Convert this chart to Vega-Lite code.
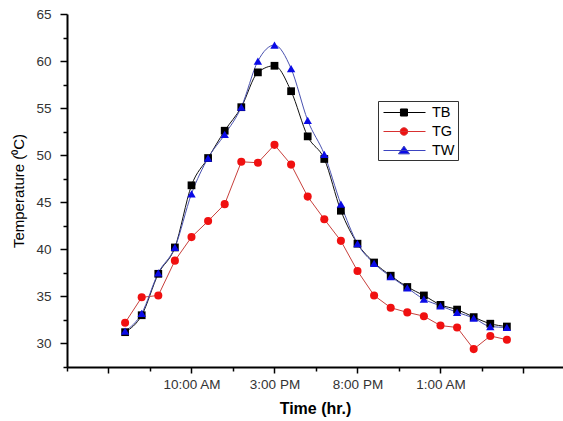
{
  "$schema": "https://vega.github.io/schema/vega-lite/v6.json",
  "width": 496,
  "height": 353,
  "autosize": "none",
  "padding": {"left": 67, "top": 14, "right": 0, "bottom": 54},
  "background": "white",
  "config": {"view": {"stroke": null}, "font": "Liberation Sans"},
  "datasets": {
    "temps": [
      {"time": 6, "series": "TB", "temp": 31.2}, {"time": 7, "series": "TB", "temp": 33.0}, {"time": 8, "series": "TB", "temp": 37.4}, {"time": 9, "series": "TB", "temp": 40.2},
      {"time": 10, "series": "TB", "temp": 46.8}, {"time": 11, "series": "TB", "temp": 49.7}, {"time": 12, "series": "TB", "temp": 52.6}, {"time": 13, "series": "TB", "temp": 55.1},
      {"time": 14, "series": "TB", "temp": 58.8}, {"time": 15, "series": "TB", "temp": 59.5}, {"time": 16, "series": "TB", "temp": 56.8}, {"time": 17, "series": "TB", "temp": 52.0},
      {"time": 18, "series": "TB", "temp": 49.6}, {"time": 19, "series": "TB", "temp": 44.1}, {"time": 20, "series": "TB", "temp": 40.6}, {"time": 21, "series": "TB", "temp": 38.6},
      {"time": 22, "series": "TB", "temp": 37.2}, {"time": 23, "series": "TB", "temp": 36.0}, {"time": 24, "series": "TB", "temp": 35.1}, {"time": 25, "series": "TB", "temp": 34.1},
      {"time": 26, "series": "TB", "temp": 33.6}, {"time": 27, "series": "TB", "temp": 32.8}, {"time": 28, "series": "TB", "temp": 32.1}, {"time": 29, "series": "TB", "temp": 31.8},
      {"time": 6, "series": "TG", "temp": 32.2}, {"time": 7, "series": "TG", "temp": 34.9}, {"time": 8, "series": "TG", "temp": 35.1}, {"time": 9, "series": "TG", "temp": 38.8},
      {"time": 10, "series": "TG", "temp": 41.3}, {"time": 11, "series": "TG", "temp": 43.0}, {"time": 12, "series": "TG", "temp": 44.8}, {"time": 13, "series": "TG", "temp": 49.3},
      {"time": 14, "series": "TG", "temp": 49.2}, {"time": 15, "series": "TG", "temp": 51.1}, {"time": 16, "series": "TG", "temp": 49.0}, {"time": 17, "series": "TG", "temp": 45.6},
      {"time": 18, "series": "TG", "temp": 43.2}, {"time": 19, "series": "TG", "temp": 40.9}, {"time": 20, "series": "TG", "temp": 37.7}, {"time": 21, "series": "TG", "temp": 35.1},
      {"time": 22, "series": "TG", "temp": 33.8}, {"time": 23, "series": "TG", "temp": 33.3}, {"time": 24, "series": "TG", "temp": 32.9}, {"time": 25, "series": "TG", "temp": 31.9},
      {"time": 26, "series": "TG", "temp": 31.7}, {"time": 27, "series": "TG", "temp": 29.4}, {"time": 28, "series": "TG", "temp": 30.8}, {"time": 29, "series": "TG", "temp": 30.4},
      {"time": 6, "series": "TW", "temp": 31.3}, {"time": 7, "series": "TW", "temp": 33.2}, {"time": 8, "series": "TW", "temp": 37.5}, {"time": 9, "series": "TW", "temp": 40.2},
      {"time": 10, "series": "TW", "temp": 45.9}, {"time": 11, "series": "TW", "temp": 49.7}, {"time": 12, "series": "TW", "temp": 52.2}, {"time": 13, "series": "TW", "temp": 55.1},
      {"time": 14, "series": "TW", "temp": 60.0}, {"time": 15, "series": "TW", "temp": 61.7}, {"time": 16, "series": "TW", "temp": 59.2}, {"time": 17, "series": "TW", "temp": 53.7},
      {"time": 18, "series": "TW", "temp": 50.1}, {"time": 19, "series": "TW", "temp": 44.8}, {"time": 20, "series": "TW", "temp": 40.6}, {"time": 21, "series": "TW", "temp": 38.5},
      {"time": 22, "series": "TW", "temp": 37.1}, {"time": 23, "series": "TW", "temp": 35.9}, {"time": 24, "series": "TW", "temp": 34.7}, {"time": 25, "series": "TW", "temp": 34.0},
      {"time": 26, "series": "TW", "temp": 33.3}, {"time": 27, "series": "TW", "temp": 32.7}, {"time": 28, "series": "TW", "temp": 31.8}, {"time": 29, "series": "TW", "temp": 31.7}
    ]
  },
  "data": {"name": "temps"},
  "encoding": {
    "x": {
      "field": "time", "type": "quantitative",
      "scale": {"domain": [2.5, 32.38], "nice": false, "zero": false},
      "axis": {
        "values": [2.5, 5, 7.5, 10, 12.5, 15, 17.5, 20, 22.5, 25, 27.5, 30],
        "labelExpr": "datum.value === 10 ? '10:00 AM' : datum.value === 15 ? '3:00 PM' : datum.value === 20 ? '8:00 PM' : datum.value === 25 ? '1:00 AM' : ''",
        "tickSize": {"condition": {"test": "datum.value % 5 === 0", "value": 6}, "value": 4},
        "grid": false,
        "title": "Time (hr.)",
        "titleFontSize": 16, "titleFontWeight": "bold", "titleColor": "black", "titlePadding": 10,
        "labelFontSize": 13.5, "labelColor": "#333", "labelPadding": 4, "labelFlush": false,
        "domainColor": "black", "domainWidth": 2, "tickColor": "black", "tickWidth": 1.5
      }
    },
    "y": {
      "field": "temp", "type": "quantitative",
      "scale": {"domain": [27.5, 65], "nice": false, "zero": false},
      "axis": {
        "values": [27.5, 30, 32.5, 35, 37.5, 40, 42.5, 45, 47.5, 50, 52.5, 55, 57.5, 60, 62.5, 65],
        "labelExpr": "datum.value % 5 === 0 ? datum.label : ''",
        "tickSize": {"condition": {"test": "datum.value % 5 === 0", "value": 7}, "value": 4},
        "grid": false,
        "title": "Temperature (⁰C)",
        "titleFontSize": 15, "titleFontWeight": "normal", "titleColor": "black", "titlePadding": 9,
        "labelFontSize": 13.5, "labelColor": "#333", "labelPadding": 9, "labelFlush": false,
        "domainColor": "black", "domainWidth": 2, "tickColor": "black", "tickWidth": 1.5
      }
    }
  },
  "layer": [
    {
      "transform": [{"filter": "datum.series === 'TB'"}],
      "mark": {"type": "line", "color": "#111111", "strokeWidth": 1, "interpolate": "monotone"},
      "encoding": {}
    },
    {
      "transform": [{"filter": "datum.series === 'TG'"}],
      "mark": {"type": "line", "color": "#c8403c", "strokeWidth": 1},
      "encoding": {}
    },
    {
      "transform": [{"filter": "datum.series === 'TW'"}],
      "mark": {"type": "line", "color": "#4a52b0", "strokeWidth": 1, "interpolate": "monotone"},
      "encoding": {}
    },
    {
      "mark": {"type": "point", "filled": true, "opacity": 1},
      "encoding": {
        "color": {
          "field": "series", "type": "nominal",
          "scale": {"domain": ["TB", "TG", "TW"], "range": ["#000000", "#f01010", "#0a0ae6"]},
          "legend": null
        },
        "shape": {
          "field": "series", "type": "nominal",
          "scale": {"domain": ["TB", "TG", "TW"], "range": ["square", "circle", "triangle-up"]},
          "legend": null
        },
        "size": {
          "field": "series", "type": "nominal",
          "scale": {"domain": ["TB", "TG", "TW"], "range": [60, 70, 100]},
          "legend": null
        }
      }
    },
    {
      "transform": [{"filter": "false"}],
      "mark": {"type": "point", "opacity": 1, "size": 256, "strokeWidth": 1},
      "encoding": {
        "fill": {
          "field": "series", "type": "nominal",
          "scale": {"domain": ["TB", "TG", "TW"], "range": ["#000000", "#f01010", "#0a0ae6"]},
          "legend": {
            "title": null, "orient": "none", "legendX": 311, "legendY": 87,
            "symbolSize": 256, "symbolStrokeWidth": 1, "labelFontSize": 14.5, "labelColor": "black", "labelOffset": 34,
            "strokeColor": "#333333", "fillColor": "white", "padding": 3, "rowPadding": 4
          }
        },
        "stroke": {
          "field": "series", "type": "nominal",
          "scale": {"domain": ["TB", "TG", "TW"], "range": ["#000000", "#d83030", "#3c44c0"]},
          "legend": {
            "title": null, "orient": "none", "legendX": 311, "legendY": 87,
            "symbolSize": 256, "symbolStrokeWidth": 1, "labelFontSize": 14.5, "labelColor": "black", "labelOffset": 34,
            "strokeColor": "#333333", "fillColor": "white", "padding": 3, "rowPadding": 4
          }
        },
        "shape": {
          "field": "series", "type": "nominal",
          "scale": {"domain": ["TB", "TG", "TW"], "range": ["M-0.75,0H4.5M1.37,-0.44H2.25V0.44H1.37Z", "M1.34,0A0.47,0.47,0,1,1,2.28,0A0.47,0.47,0,1,1,1.34,0ZM-0.75,0H4.5", "M-0.75,0H4.5M1.81,-0.55L2.5,0.42H1.12Z"]},
          "legend": {
            "title": null, "orient": "none", "legendX": 311, "legendY": 87,
            "symbolSize": 256, "symbolStrokeWidth": 1, "labelFontSize": 14.5, "labelColor": "black", "labelOffset": 34,
            "strokeColor": "#333333", "fillColor": "white", "padding": 3, "rowPadding": 4
          }
        }
      }
    }
  ],
  "resolve": {"scale": {"shape": "independent", "color": "independent", "fill": "independent", "stroke": "independent"}}
}
